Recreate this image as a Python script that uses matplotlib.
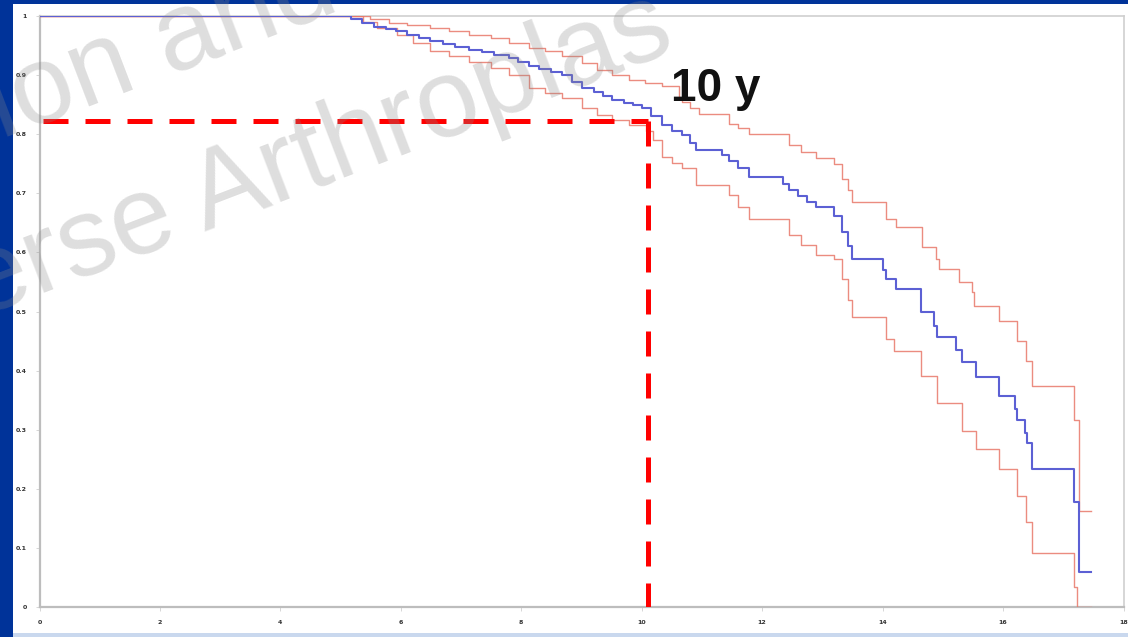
import matplotlib
matplotlib.use("Agg")
import matplotlib.pyplot as plt
from matplotlib.patches import Rectangle

# ---- data ----
t_km = [0, 5.18, 5.35, 5.55, 5.75, 5.92, 6.10, 6.30, 6.48, 6.70, 6.90, 7.14, 7.35, 7.55, 7.80, 7.95,
        8.13, 8.30, 8.50, 8.68, 8.85, 9.01, 9.20, 9.35, 9.51, 9.70, 9.85, 10.01, 10.15, 10.34, 10.50,
        10.67, 10.80, 10.90, 11.33, 11.45, 11.60, 11.78, 12.35, 12.45, 12.60, 12.75, 12.89, 13.20,
        13.33, 13.42, 13.49, 14.00, 14.05, 14.22, 14.64, 14.85, 14.90, 15.22, 15.32, 15.55, 15.93,
        16.20, 16.23, 16.36, 16.40, 16.48, 17.17, 17.26, 17.46]
s_km = [1.0, 0.995, 0.988, 0.982, 0.978, 0.974, 0.968, 0.962, 0.957, 0.952, 0.948, 0.943, 0.939, 0.934,
        0.929, 0.922, 0.915, 0.910, 0.905, 0.900, 0.889, 0.878, 0.871, 0.864, 0.858, 0.853, 0.849, 0.844,
        0.830, 0.815, 0.806, 0.798, 0.785, 0.773, 0.764, 0.754, 0.742, 0.728, 0.716, 0.705, 0.695, 0.686,
        0.677, 0.662, 0.635, 0.610, 0.589, 0.570, 0.555, 0.538, 0.499, 0.475, 0.457, 0.435, 0.414, 0.389,
        0.357, 0.335, 0.317, 0.295, 0.278, 0.233, 0.177, 0.060, 0.060]

t_up = [0, 5.48, 5.8, 6.1, 6.48, 6.8, 7.14, 7.5, 7.8, 8.13, 8.4, 8.68, 9.0, 9.25, 9.5, 9.79, 10.05,
        10.34, 10.62, 10.67, 10.8, 10.95, 11.45, 11.6, 11.78, 12.45, 12.65, 12.89, 13.2, 13.33, 13.42,
        13.49, 14.05, 14.22, 14.65, 14.88, 14.93, 15.27, 15.48, 15.51, 15.93, 16.23, 16.38, 16.48,
        17.17, 17.26, 17.46]
s_up = [1.0, 0.995, 0.988, 0.984, 0.980, 0.974, 0.968, 0.962, 0.955, 0.946, 0.940, 0.932, 0.920, 0.909,
        0.900, 0.892, 0.887, 0.881, 0.861, 0.855, 0.845, 0.835, 0.818, 0.810, 0.801, 0.781, 0.770, 0.759,
        0.750, 0.725, 0.705, 0.686, 0.657, 0.643, 0.609, 0.589, 0.572, 0.550, 0.533, 0.510, 0.484, 0.450,
        0.416, 0.374, 0.317, 0.162, 0.162]

t_lo = [0, 5.37, 5.6, 5.93, 6.2, 6.48, 6.8, 7.14, 7.5, 7.80, 8.13, 8.4, 8.68, 9.0, 9.25, 9.5, 9.79,
        10.07, 10.18, 10.34, 10.5, 10.67, 10.9, 11.45, 11.6, 11.78, 12.45, 12.65, 12.89, 13.2, 13.33,
        13.42, 13.49, 14.05, 14.19, 14.64, 14.90, 15.32, 15.55, 15.93, 16.23, 16.38, 16.48, 17.17,
        17.22, 17.46]
s_lo = [1.0, 0.990, 0.980, 0.968, 0.955, 0.940, 0.932, 0.923, 0.912, 0.900, 0.878, 0.870, 0.861, 0.845,
        0.832, 0.824, 0.815, 0.805, 0.790, 0.762, 0.752, 0.742, 0.714, 0.697, 0.677, 0.657, 0.629, 0.612,
        0.595, 0.589, 0.555, 0.520, 0.491, 0.453, 0.433, 0.391, 0.346, 0.298, 0.267, 0.233, 0.187, 0.143,
        0.092, 0.034, 0.0, 0.0]

ref_year = 10.1
ref_surv = 0.822
annotation = "10 y"
x_ticks = [0, 2, 4, 6, 8, 10, 12, 14, 16, 18]
y_ticks = [0, 0.1, 0.2, 0.3, 0.4, 0.5, 0.6, 0.7, 0.8, 0.9, 1.0]
y_ticklabels = ["0", "0.1", "0.2", "0.3", "0.4", "0.5", "0.6", "0.7", "0.8", "0.9", "1"]
watermark_1 = "ion and"
watermark_2 = "erse Arthroplas"

# ---- figure ----
W, H = 1128, 637
fig = plt.figure(figsize=(W / 100, H / 100), dpi=100)
fig.patch.set_facecolor("white")

# slide decoration
fig.patches.append(Rectangle((0, 0), 13 / W, 1, transform=fig.transFigure,
                             facecolor="#003399", edgecolor="none", zorder=-1))
fig.patches.append(Rectangle((0, 1 - 4 / H), 1, 4 / H, transform=fig.transFigure,
                             facecolor="#003399", edgecolor="none", zorder=-1))
fig.patches.append(Rectangle((13 / W, 0), 1, 4 / H, transform=fig.transFigure,
                             facecolor="#c9d8ee", edgecolor="none", zorder=-1))

left, right, bottom, top = 39.5, 1123.5, 607, 16
ax = fig.add_axes([left / W, (H - bottom) / H, (right - left) / W, (bottom - top) / H])
ax.set_xlim(0, 18)
ax.set_ylim(0, 1)
ax.set_facecolor("white")

ax.step(t_up, s_up, where="post", color="#e8786a", lw=1.0, alpha=0.85, zorder=3)
ax.step(t_lo, s_lo, where="post", color="#e8786a", lw=1.0, alpha=0.85, zorder=3)
ax.step(t_km, s_km, where="post", color="#5c60d4", lw=1.5, zorder=4)

# reference lines at 10 years
ax.plot([0.05, ref_year], [ref_surv, ref_surv], color="#ff0000", lw=3.6,
        dashes=(5, 3.4), dash_capstyle="butt", zorder=5)
ax.plot([ref_year, ref_year], [ref_surv, 0], color="#ff0000", lw=3.6,
        dashes=(5, 3.4), dash_capstyle="butt", zorder=5)

ax.text(10.49, 0.856, annotation, fontsize=33, fontweight="bold", color="#111111",
        family="Liberation Sans", ha="left", va="baseline", zorder=6)

for side in ["left", "bottom"]:
    ax.spines[side].set_color("#bdbdbd")
    ax.spines[side].set_linewidth(1.6)
for side in ["top", "right"]:
    ax.spines[side].set_color("#cfcfcf")
    ax.spines[side].set_linewidth(1.2)

ax.set_xticks(x_ticks)
ax.set_xticklabels([str(v) for v in x_ticks])
ax.set_yticks(y_ticks)
ax.set_yticklabels(y_ticklabels)
ax.tick_params(axis="both", length=3, width=0.6, color="#d0d0d0", labelsize=4.5,
               labelcolor="#333333", pad=6, direction="out")
for lab in ax.get_xticklabels() + ax.get_yticklabels():
    lab.set_fontweight("bold")

# watermark (semi-transparent, on top)
fig.text(-20 / W, (H - 318) / H, watermark_2, fontsize=80, color="#8a8a8a", alpha=0.28,
         rotation=21, rotation_mode="anchor", ha="left", va="baseline",
         family="Liberation Sans", zorder=10)
fig.text(2 / W, (H - 140) / H, watermark_1, fontsize=80, color="#8a8a8a", alpha=0.28,
         rotation=21, rotation_mode="anchor", ha="left", va="baseline",
         family="Liberation Sans", zorder=10)

fig.savefig("out.png", dpi=100)
